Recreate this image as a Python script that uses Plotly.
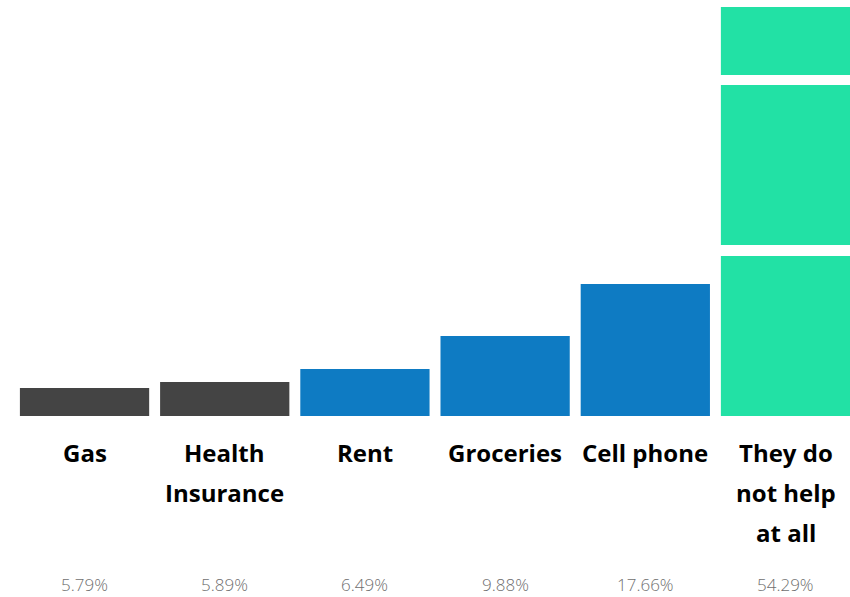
import plotly.graph_objects as go

categories = ["Gas", "Health<br>Insurance", "Rent", "Groceries", "Cell phone", "They do<br>not help<br>at all"]
pct_labels = ["5.79%", "5.89%", "6.49%", "9.88%", "17.66%", "54.29%"]
# bar heights as drawn in the picture (arbitrary units)
bar_heights = [28, 34, 47, 80, 132]
# the last bar is drawn as a broken bar: (base, height) segments
break_bases = [0, 171, 341]
break_heights = [160, 160, 68]
colors = ["#444444", "#444444", "#0E7BC3", "#0E7BC3", "#0E7BC3", "#22E1A5"]

x_pos = list(range(len(categories)))
fig = go.Figure()
fig.add_trace(go.Bar(
    x=x_pos[:5], y=bar_heights, marker=dict(color=colors[:5], line=dict(width=0)),
    width=0.922, hoverinfo="skip"))
fig.add_trace(go.Bar(
    x=[x_pos[5]] * len(break_bases), y=break_heights, base=break_bases,
    marker=dict(color=colors[5], line=dict(width=0)), width=0.922, hoverinfo="skip"))

annotations = []
for i, cat in enumerate(categories):
    for j, line in enumerate(cat.split("<br>")):
        annotations.append(dict(
            x=x_pos[i], y=0, xref="x", yref="y", text=line, showarrow=False,
            xanchor="center", yanchor="middle", yshift=-36 - 40 * j,
            font=dict(family="Open Sans", size=24, color="#000000", weight=700)))
    annotations.append(dict(
        x=x_pos[i], y=0, xref="x", yref="y", text=pct_labels[i], showarrow=False,
        xanchor="center", yanchor="middle", yshift=-168,
        font=dict(family="Open Sans", size=17, color="#6f6f6f", weight=300)))

fig.update_layout(
    width=850, height=597, margin=dict(l=0, r=0, t=7, b=181),
    paper_bgcolor="white", plot_bgcolor="white", showlegend=False,
    barmode="overlay", annotations=annotations,
    xaxis=dict(range=[-0.603, 5.46], visible=False, fixedrange=True),
    yaxis=dict(range=[0, 409], visible=False, fixedrange=True),
)
fig.write_html("out.html")
